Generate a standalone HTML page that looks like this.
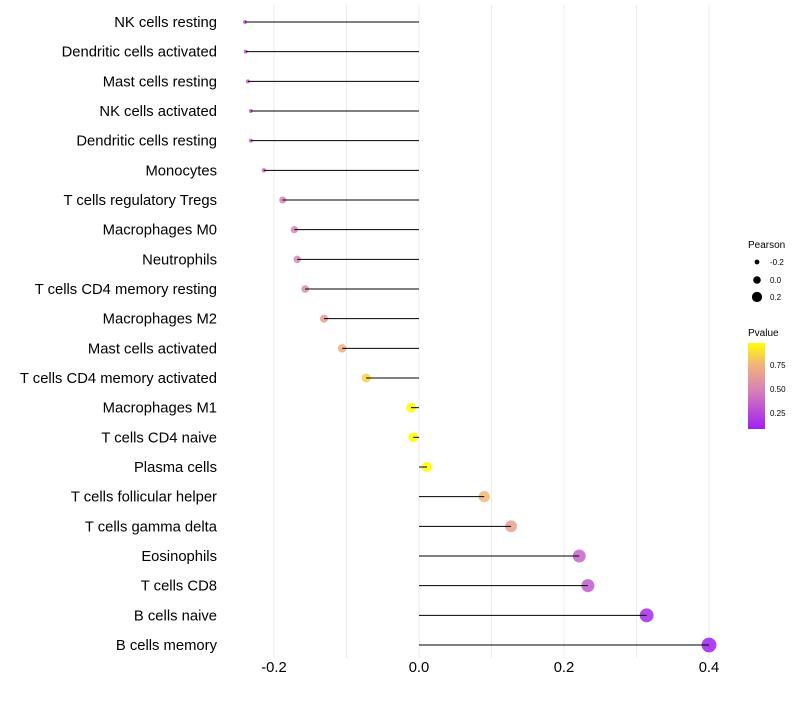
<!DOCTYPE html>
<html><head><meta charset="utf-8"><style>
body{margin:0;background:#fff;font-family:"Liberation Sans",sans-serif}
</style></head><body>
<svg id="chart" width="800" height="700" xmlns="http://www.w3.org/2000/svg" font-family="Liberation Sans, sans-serif">
<defs><linearGradient id="pg" x1="0" y1="1" x2="0" y2="0">
<stop offset="0" stop-color="#A020F0"/><stop offset="0.45" stop-color="#D880B8"/><stop offset="0.75" stop-color="#F2B47A"/><stop offset="1" stop-color="#FFFF00"/></linearGradient></defs>
<g id="grid"></g>
<g id="marks"></g>
<g id="ylabels"></g>
<g id="xlabels"></g>
<g>
<text x="748" y="248" font-size="10">Pearson</text>
<circle cx="757" cy="262" r="2.4" fill="#000"/><text x="770" y="265" font-size="8">-0.2</text>
<circle cx="757" cy="280" r="3.8" fill="#000"/><text x="770" y="283" font-size="8">0.0</text>
<circle cx="757" cy="297" r="5.1" fill="#000"/><text x="770" y="300" font-size="8">0.2</text>
</g>
<g>
<text x="748" y="336" font-size="10">Pvalue</text>
<rect x="748" y="343" width="17" height="86" fill="url(#pg)"/>
<text x="770" y="368" font-size="8">0.75</text>
<text x="770" y="392" font-size="8">0.50</text>
<text x="770" y="416" font-size="8">0.25</text>
</g>
</svg>
<script>
const categories=["NK cells resting","Dendritic cells activated","Mast cells resting","NK cells activated","Dendritic cells resting","Monocytes","T cells regulatory  Tregs ","Macrophages M0","Neutrophils","T cells CD4 memory resting","Macrophages M2","Mast cells activated","T cells CD4 memory activated","Macrophages M1","T cells CD4 naive","Plasma cells","T cells follicular helper","T cells gamma delta","Eosinophils","T cells CD8","B cells naive","B cells memory"];
const pearson=[-0.240,-0.239,-0.236,-0.232,-0.232,-0.214,-0.188,-0.172,-0.168,-0.157,-0.131,-0.106,-0.073,-0.011,-0.008,0.011,0.090,0.127,0.221,0.233,0.314,0.400];
const pvalue=[0.3,0.3,0.31,0.32,0.33,0.36,0.45,0.47,0.48,0.5,0.6,0.7,0.83,0.97,0.97,0.97,0.74,0.62,0.33,0.3,0.12,0.07];
const xTicks=[-0.2,0.0,0.2,0.4];
const xTickLabels=["-0.2","0.0","0.2","0.4"];
const NS="http://www.w3.org/2000/svg";
const x=v=>419+v*725;
const y=i=>22+i*(623/(categories.length-1));
const r=v=>Math.max(2,Math.sqrt(Math.max(0,25+72*(v+0.011)))-(v<-0.2?1:0));
const stops=[[0.08,[160,32,240]],[0.45,[216,128,184]],[0.73,[242,180,122]],[0.98,[255,255,0]]];
function col(p){p=Math.max(stops[0][0],Math.min(stops[3][0],p));for(let k=0;k<3;k++){const a=stops[k],b=stops[k+1];if(p<=b[0]){const t=(p-a[0])/(b[0]-a[0]);return "rgb("+a[1].map((c,j)=>Math.round(c+(b[1][j]-c)*t)).join(",")+")";}}return "rgb(255,255,0)";}
function mk(tag,at,parent){const e=document.createElementNS(NS,tag);for(const k in at)e.setAttribute(k,at[k]);parent.appendChild(e);return e;}
const grid=document.getElementById('grid'),marks=document.getElementById('marks'),yl=document.getElementById('ylabels'),xl=document.getElementById('xlabels');
for(let v=-0.2;v<=0.401;v+=0.1){const g=mk('line',{x1:x(v),x2:x(v),y1:5,y2:658,stroke:'#ebebeb','stroke-width':1},grid);

}
categories.forEach((c,i)=>{
const pt=mk('circle',{cx:x(pearson[i]),cy:y(i),r:r(pearson[i]),fill:col(pvalue[i]),'fill-opacity':0.85},marks);


const sg=mk('line',{x1:x(0),x2:x(pearson[i]),y1:y(i),y2:y(i),stroke:'#000','stroke-width':1},marks);


const t=mk('text',{x:217,y:y(i)+5,'text-anchor':'end','font-size':14.8,fill:'#000'},yl);t.textContent=c;


});
xTicks.forEach((v,i)=>{const t=mk('text',{x:x(v),y:672,'text-anchor':'middle','font-size':14.8,fill:'#000'},xl);t.textContent=xTickLabels[i];

});
</script>
</body></html>
